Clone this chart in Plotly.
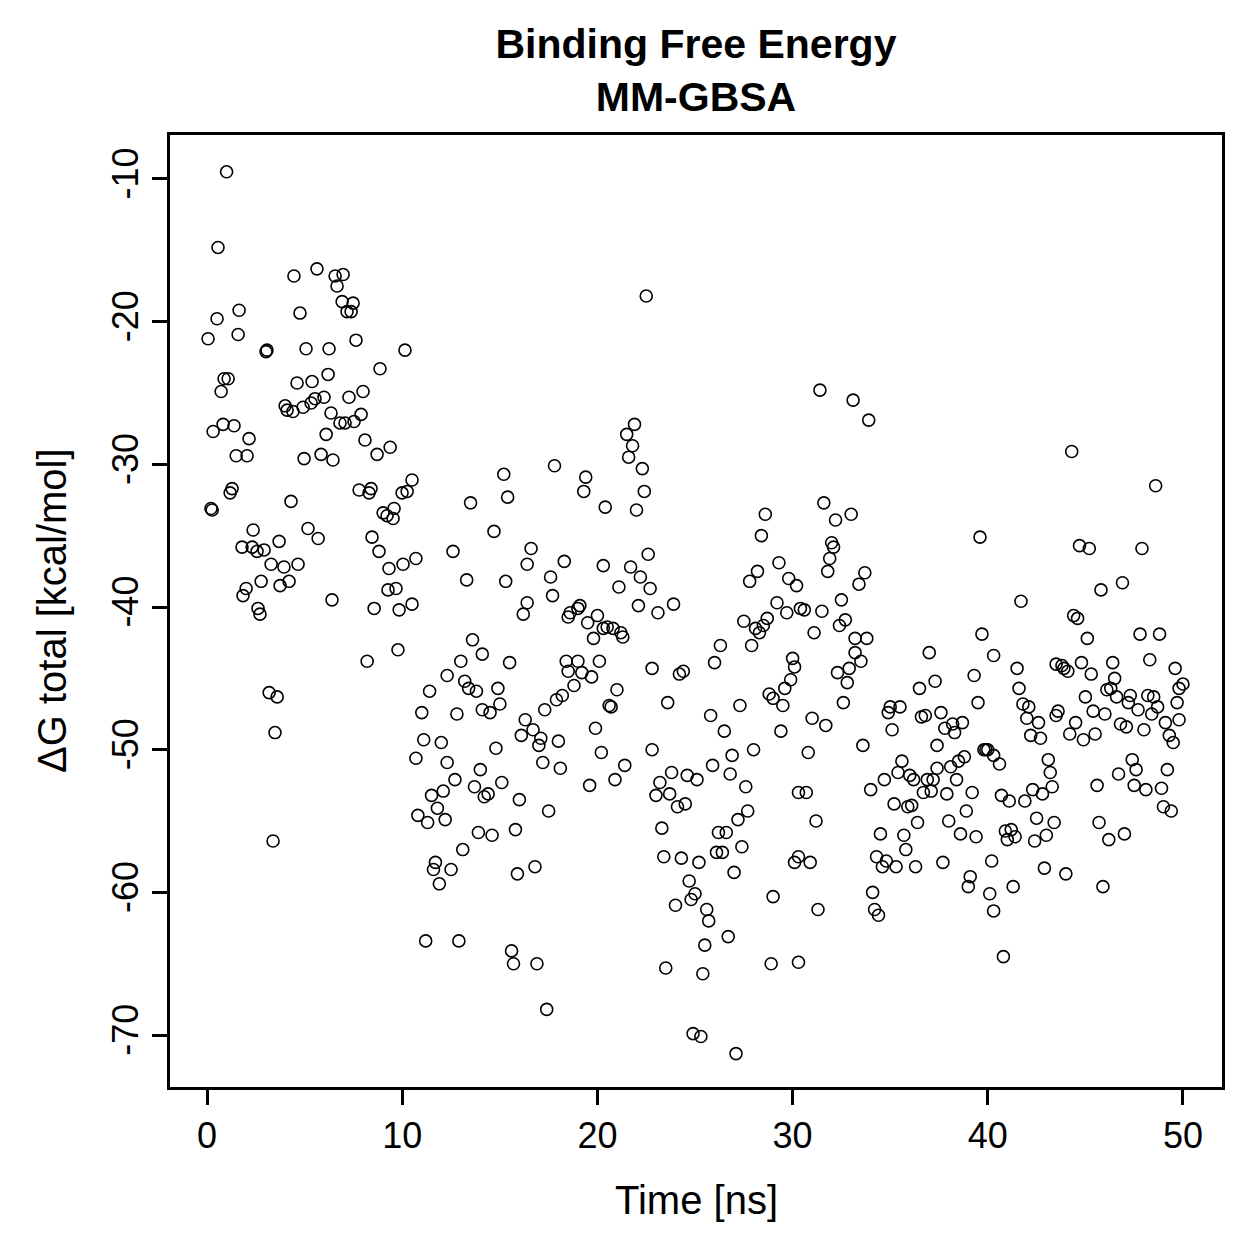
import plotly.graph_objects as go

# Time [ns]
time_ns = [
    0.05, 0.2, 0.26, 0.31, 0.51, 0.56, 0.72, 0.82, 0.87, 1.0, 1.08, 1.18, 1.28, 1.38, 1.49, 1.59, 1.64, 1.79, 1.84, 2.0,
    2.05, 2.15, 2.31, 2.36, 2.56, 2.61, 2.71, 2.77, 2.92, 3.02, 3.07, 3.18, 3.28, 3.38, 3.48, 3.59, 3.69, 3.74, 3.94, 4.0,
    4.1, 4.2, 4.3, 4.4, 4.45, 4.61, 4.66, 4.76, 4.92, 4.97, 5.07, 5.17, 5.33, 5.38, 5.53, 5.63, 5.69, 5.84, 5.99, 6.1,
    6.2, 6.25, 6.35, 6.4, 6.45, 6.56, 6.66, 6.81, 6.92, 6.97, 7.07, 7.17, 7.27, 7.38, 7.48, 7.53, 7.63, 7.79, 7.89, 7.99,
    8.09, 8.2, 8.3, 8.4, 8.45, 8.56, 8.71, 8.81, 8.86, 9.02, 9.22, 9.27, 9.32, 9.38, 9.58, 9.53, 9.68, 9.78, 9.84, 9.99,
    10.04, 10.14, 10.25, 10.5, 10.5, 10.7, 10.7, 10.8,
    11.0, 11.1, 11.2, 11.3, 11.4, 11.5, 11.6, 11.7, 11.8, 11.9, 12.0, 12.1, 12.2, 12.3, 12.3, 12.5, 12.6, 12.7, 12.8, 12.9,
    13.0, 13.1, 13.2, 13.3, 13.4, 13.5, 13.6, 13.7, 13.8, 13.9, 14.0, 14.1, 14.1, 14.2, 14.4, 14.5, 14.6, 14.7, 14.8, 14.9,
    15.0, 15.1, 15.2, 15.3, 15.4, 15.5, 15.6, 15.7, 15.8, 15.9, 16.0, 16.1, 16.2, 16.3, 16.4, 16.4, 16.6, 16.7, 16.8, 16.9,
    17.0, 17.1, 17.2, 17.3, 17.4, 17.5, 17.6, 17.7, 17.8, 17.9, 18.0, 18.1, 18.2, 18.3, 18.4, 18.5, 18.5, 18.6, 18.8, 19.0,
    19.0, 19.1, 19.2, 19.3, 19.4, 19.5, 19.6, 19.7, 19.8, 19.9, 20.0, 20.1, 20.2, 20.3, 20.3, 20.4, 20.5, 20.6, 20.7, 20.8,
    20.9, 21.0,
    21.1, 21.2, 21.3, 21.4, 21.5, 21.6, 21.7, 21.8, 21.9, 22.0, 22.1, 22.2, 22.3, 22.4, 22.5, 22.6, 22.7, 22.8, 22.8, 23.0,
    23.1, 23.2, 23.3, 23.4, 23.5, 23.6, 23.7, 23.8, 23.9, 24.0, 24.1, 24.2, 24.3, 24.4, 24.5, 24.6, 24.7, 24.8, 24.9, 25.0,
    25.1, 25.2, 25.3, 25.4, 25.5, 25.6, 25.7, 25.8, 25.9, 26.0, 26.1, 26.2, 26.3, 26.4, 26.5, 26.6, 26.7, 26.8, 26.9, 27.0,
    27.1, 27.2, 27.3, 27.4, 27.5, 27.6, 27.7, 27.8, 27.9, 28.0, 28.1, 28.2, 28.3, 28.4, 28.5, 28.6, 28.7, 28.8, 28.9, 29.0,
    29.0, 29.2, 29.3, 29.4, 29.5, 29.6, 29.7, 29.8, 29.9, 30.0, 30.1, 30.1, 30.2, 30.3, 30.3, 30.3, 30.4,
    30.6, 30.7, 30.8, 30.9, 31.0, 31.1, 31.2, 31.3, 31.4, 31.5, 31.6, 31.7, 31.8, 31.9, 32.0, 32.1, 32.2, 32.3, 32.4, 32.5,
    32.6, 32.7, 32.8, 32.9, 33.0, 33.1, 33.2, 33.2, 33.4, 33.5, 33.6, 33.7, 33.8, 33.9, 34.0, 34.1, 34.2, 34.3, 34.4, 34.5,
    34.6, 34.7, 34.8, 34.9, 35.0, 35.1, 35.2, 35.3, 35.4, 35.5, 35.6, 35.7, 35.8, 35.9, 36.0, 36.1, 36.2, 36.3, 36.4, 36.5,
    36.6, 36.7, 36.8, 36.9, 37.0, 37.1, 37.2, 37.3, 37.4, 37.4, 37.6, 37.7, 37.8, 37.9, 38.0, 38.1, 38.2, 38.3, 38.4, 38.5,
    38.6, 38.7, 38.8, 38.9, 39.0, 39.1, 39.2, 39.3, 39.4, 39.5, 39.6, 39.7, 39.8, 39.9, 40.0, 40.1, 40.2, 40.3, 40.3, 40.3,
    40.6, 40.7, 40.8, 40.9, 41.0, 41.1, 41.2, 41.3, 41.4, 41.5, 41.6, 41.7, 41.8, 41.9, 42.0, 42.1, 42.2, 42.3, 42.4, 42.5,
    42.6, 42.7, 42.8, 42.9, 43.0, 43.1, 43.2, 43.3, 43.4, 43.5, 43.5, 43.6, 43.8, 43.9, 44.0, 44.1, 44.2, 44.3, 44.4, 44.5,
    44.6, 44.7, 44.8, 44.9, 45.0, 45.1, 45.2, 45.3, 45.4, 45.5, 45.6, 45.7, 45.8, 45.9, 46.0, 46.1, 46.2, 46.3, 46.4, 46.5,
    46.6, 46.7, 46.8, 46.9, 47.0, 47.1, 47.2, 47.3, 47.4, 47.5, 47.6, 47.7, 47.8, 47.9, 48.0, 48.1, 48.2, 48.3, 48.4, 48.5,
    48.6, 48.7, 48.8, 48.9, 49.0, 49.1, 49.2, 49.3, 49.4, 49.5, 49.6, 49.7, 49.8, 49.8, 50.0,
]

# Delta G total [kcal/mol]
dg_total = [
    -21.2, -33.1, -33.2, -27.7, -19.8, -14.8, -24.9, -27.2, -24.0, -9.5, -24.0, -32.0, -31.7, -27.3, -29.4, -20.9, -19.2, -35.8, -39.2, -38.7,
    -29.4, -28.2, -35.8, -34.6, -36.1, -40.1, -40.5, -38.2, -36.0, -22.1, -22.0, -46.0, -37.0, -56.4, -48.8, -46.3, -35.4, -38.5, -37.2, -25.9,
    -26.2, -38.2, -32.6, -26.3, -16.8, -24.3, -37.0, -19.4, -26.0, -29.6, -21.9, -34.5, -25.7, -24.2, -25.4, -16.3, -35.2, -29.3, -25.3, -27.9,
    -23.7, -21.9, -26.4, -39.5, -29.7, -16.8, -17.5, -27.1, -18.6, -16.7, -27.1, -19.3, -25.3, -19.3, -18.7, -27.0, -21.3, -31.8, -26.5, -24.9,
    -28.3, -43.8, -32.0, -31.7, -35.1, -40.1, -29.3, -36.1, -23.3, -33.4, -33.6, -38.8, -37.3, -28.8, -33.1, -33.8, -38.7, -43.0, -40.2, -32.0,
    -37.0, -22.0, -31.9, -31.1, -39.8, -36.6, -50.6, -54.6,
    -47.4, -49.3, -63.4, -55.1, -45.9, -53.2, -58.4, -57.9, -54.1, -59.4, -49.5, -52.9, -54.9, -50.9, -44.8, -58.4, -36.1, -52.1, -47.5, -63.4,
    -43.8, -57.0, -45.2, -38.1, -45.7, -32.7, -42.3, -52.6, -45.9, -55.8, -51.4, -43.3, -47.2, -53.3, -53.1, -47.4, -56.0, -34.7, -49.9, -45.7,
    -46.8, -52.3, -30.7, -38.2, -32.3, -43.9, -64.1, -65.0, -55.6, -58.7, -53.5, -49.0, -40.5, -47.9, -37.0, -39.7, -35.9, -48.6, -58.2, -65.0,
    -49.7, -49.2, -50.9, -47.2, -68.2, -54.3, -37.9, -39.2, -30.1, -46.5, -49.4, -51.3, -46.2, -36.8, -43.8, -44.5, -40.7, -40.4, -45.5, -43.8,
    -40.1, -39.9, -44.6, -31.9, -30.9, -41.1, -52.5, -44.9, -42.2, -48.5, -40.6, -43.8, -50.2, -37.1, -41.5, -33.0, -41.4, -46.9, -47.0, -41.5,
    -52.1, -45.8,
    -38.6, -41.8, -42.1, -51.1, -27.9, -29.5, -37.2, -28.7, -27.2, -33.2, -39.9, -37.9, -30.3, -31.9, -18.2, -36.3, -38.7, -44.3, -50.0, -53.2,
    -40.4, -52.3, -55.5, -57.5, -65.3, -46.7, -53.1, -51.6, -39.8, -60.9, -54.0, -44.7, -57.6, -44.5, -53.8, -51.8, -59.2, -60.5, -69.9, -60.1,
    -52.1, -57.9, -70.1, -65.7, -63.7, -61.2, -62.0, -47.6, -51.1, -43.9, -57.2, -55.8, -42.7, -57.2, -48.7, -55.8, -63.1, -51.7, -50.4, -58.6,
    -71.3, -54.9, -46.9, -56.8, -41.0, -52.6, -54.3, -38.2, -42.7, -50.0, -41.5, -37.5, -41.8, -35.0, -41.3, -33.5, -40.8, -46.1, -65.0, -46.4,
    -60.3, -39.7, -36.9, -48.7, -46.9, -45.7, -40.4, -38.0, -45.1, -43.6, -44.2, -57.9, -38.5, -53.0, -57.5, -64.9, -40.1,
    -40.2, -53.0, -50.2, -57.9, -47.8, -41.8, -55.0, -61.2, -24.8, -40.3, -32.7, -48.3, -37.5, -36.6, -35.5, -35.8, -33.9, -44.6, -41.3, -39.5,
    -46.7, -40.9, -45.3, -44.3, -33.5, -25.5, -42.2, -43.2, -38.4, -43.8, -49.7, -37.6, -42.2, -26.9, -52.8, -60.0, -61.2, -57.5, -61.6, -55.9,
    -58.2, -52.1, -57.8, -47.4, -47.0, -48.6, -53.8, -58.2, -51.6, -47.0, -50.8, -56.0, -57.0, -54.0, -51.8, -53.9, -52.1, -58.2, -55.1, -45.7,
    -47.7, -53.0, -47.6, -52.1, -43.2, -52.9, -52.1, -45.2, -51.3, -49.7, -47.4, -57.9, -48.5, -53.1, -55.0, -51.2, -48.2, -48.8, -52.1, -50.8,
    -55.9, -48.1, -50.5, -54.3, -59.6, -58.9, -53.0, -44.8, -56.1, -46.7, -35.1, -41.9, -50.0, -50.0, -50.0, -60.1, -57.8, -43.4, -61.3, -50.4,
    -51.0, -53.2, -64.5, -55.7, -56.3, -53.6, -55.6, -59.6, -56.1, -44.3, -45.7, -39.6, -46.8, -53.6, -47.8, -47.0, -49.0, -52.8, -56.4, -54.8,
    -48.1, -49.2, -53.1, -58.3, -56.0, -50.7, -51.6, -52.6, -55.1, -44.0, -47.6, -47.3, -44.1, -44.3, -58.7, -44.5, -48.9, -29.1, -40.6, -48.1,
    -40.8, -35.7, -43.9, -49.3, -46.3, -42.2, -35.9, -44.7, -47.3, -48.9, -52.5, -55.1, -38.8, -59.6, -47.5, -45.8, -56.3, -45.7, -43.9, -45.0,
    -46.3, -51.7, -48.2, -38.3, -55.9, -48.4, -46.7, -46.2, -50.7, -52.5, -51.4, -47.2, -41.9, -35.9, -48.6, -52.8, -46.2, -43.7, -47.5, -46.3,
    -31.5, -47.0, -41.9, -52.7, -54.0, -48.1, -51.4, -49.0, -54.3, -49.5, -44.3, -46.7, -47.9, -45.7, -45.4,
]

x_ticks = [0, 10, 20, 30, 40, 50]
y_ticks = [-70, -60, -50, -40, -30, -20, -10]
y_tick_text = ["-70", "-60", "-50", "-40", "-30", "-20", "-10"]

FONT = "Liberation Sans, Arial, Helvetica, sans-serif"

fig = go.Figure()
fig.add_trace(go.Scatter(
    x=time_ns, y=dg_total, mode="markers",
    marker=dict(symbol="circle-open", size=12, color="black", line=dict(width=1.6, color="black")),
    showlegend=False, hoverinfo="x+y",
))

fig.update_layout(
    width=1259, height=1259,
    margin=dict(l=170, r=37, t=135, b=172),
    paper_bgcolor="white", plot_bgcolor="white",
    font=dict(family=FONT, size=36, color="black"),
    title=dict(
        text="<b>Binding Free Energy</b><br><b>MM-GBSA</b>",
        x=(696) / 1259, xanchor="center", xref="container",
        y=1 - 58 / 1259, yanchor="middle", yref="container",
        font=dict(family=FONT, size=41, color="black"),
    ),
    xaxis=dict(
        range=[-1.9, 52.0], tickvals=x_ticks, ticks="outside", ticklen=15, tickwidth=2.5,
        tickcolor="black", showline=True, linecolor="black", linewidth=2.5, mirror=True,
        showgrid=False, zeroline=False, tickfont=dict(size=36),
    ),
    yaxis=dict(
        range=[-73.64, -6.92], tickvals=y_ticks, ticktext=y_tick_text, ticks="outside",
        ticklen=15, tickwidth=2.5, tickcolor="black", tickangle=-90,
        showline=True, linecolor="black", linewidth=2.5, mirror=True,
        showgrid=False, zeroline=False, tickfont=dict(size=36),
    ),
    annotations=[
        dict(text="Time [ns]", xref="paper", yref="paper", x=0.5, y=-(1200 - 1087) / 952,
             xanchor="center", yanchor="middle", showarrow=False, font=dict(size=40)),
        dict(text="ΔG total [kcal/mol]", xref="paper", yref="paper", x=-(170 - 52) / 1052, y=0.5,
             xanchor="center", yanchor="middle", textangle=-90, showarrow=False, font=dict(size=40)),
    ],
)

fig.write_html("out.html")
